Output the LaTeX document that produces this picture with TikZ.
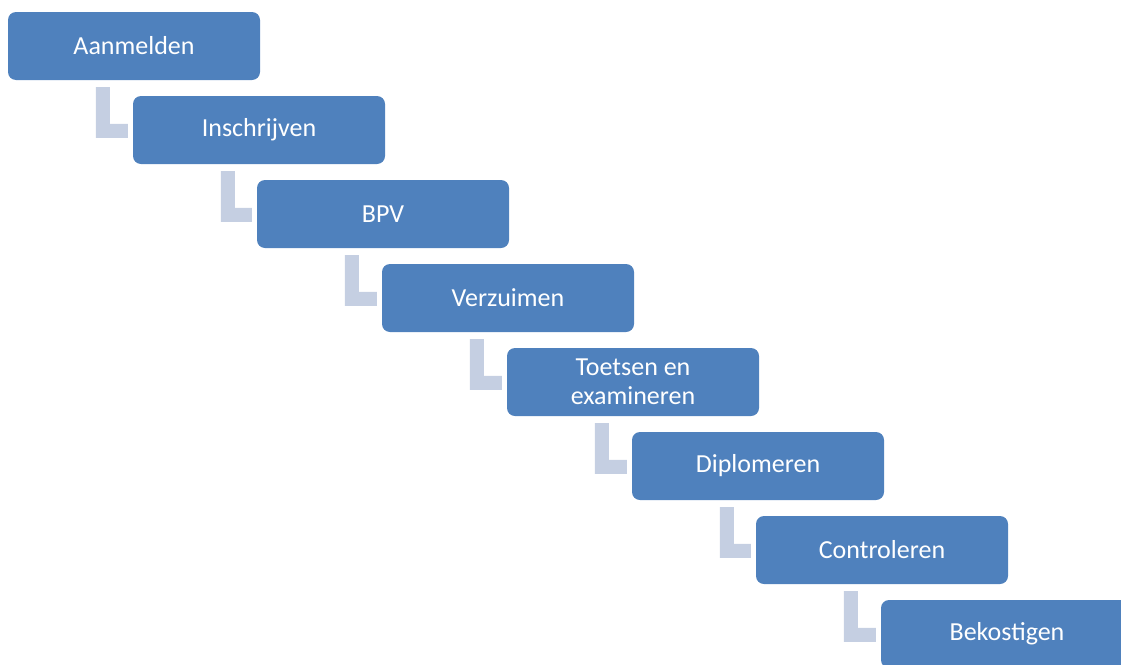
\documentclass[tikz,border=0pt]{standalone}
\usepackage{fontspec}
\setmainfont{Carlito}
\definecolor{stepblue}{RGB}{79,129,189}
\definecolor{steplink}{RGB}{197,207,226}

\begin{document}
\begin{tikzpicture}
	[x=1pt, y=-1pt,
	every node/.style={rectangle,rounded corners=8pt,fill=stepblue,text=white,
		minimum width=252pt,minimum height=68pt,inner sep=2pt,align=center,
		font=\fontsize{26}{29}\selectfont},
	elbow/.style={fill=steplink}]
	\useasboundingbox (0,0) rectangle (1121,664);
	\clip (0,0) rectangle (1121,664);
	\node (aanmelden) at (134,46) {Aanmelden};
	\node (inschrijven) at (259,130) {Inschrijven};
	\node (bpv) at (383,214) {BPV};
	\node (verzuimen) at (508,298) {Verzuimen};
	\node (toetsen) at (633,382) {Toetsen en\\examineren};
	\node (diplomeren) at (758,466) {Diplomeren};
	\node (controleren) at (882,550) {Controleren};
	\node (bekostigen) at (1007,634) {Bekostigen};
	% elbows between the steps
	\foreach \a/\b in {aanmelden/inschrijven,inschrijven/bpv,bpv/verzuimen,
		verzuimen/toetsen,toetsen/diplomeren,diplomeren/controleren,
		controleren/bekostigen}
		\fill[elbow] ([xshift=88pt,yshift=-7pt]\a.south west) coordinate (top)
			-- ++(14,0) |- ([xshift=-5pt,yshift=-28pt]\b.north west)
			-- ([xshift=-5pt,yshift=-42pt]\b.north west) -| (top) -- cycle;
\end{tikzpicture}
\end{document}
